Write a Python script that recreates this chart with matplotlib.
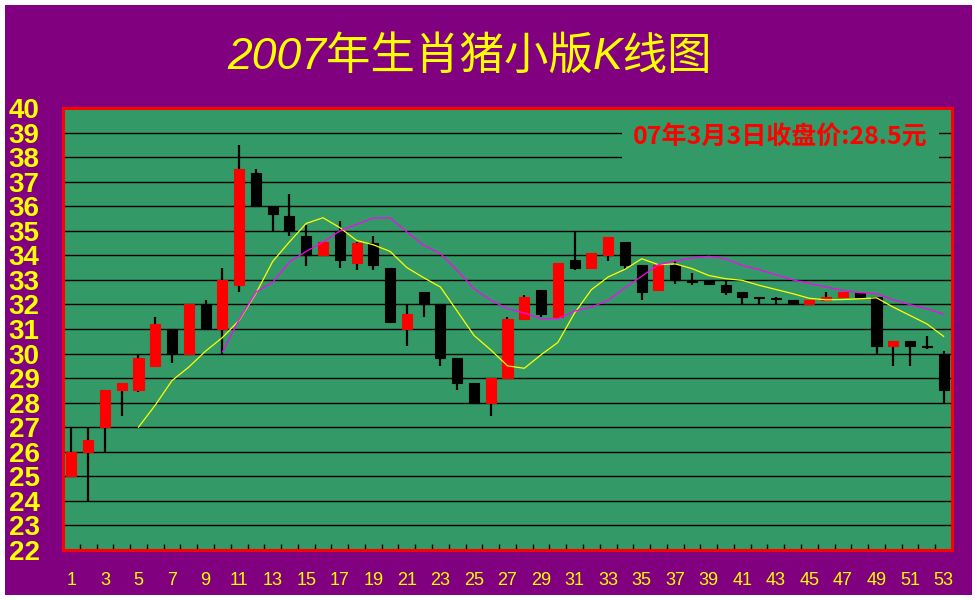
"""2007年生肖猪小版K线图 — daily candlestick chart with two moving averages."""
import matplotlib
matplotlib.use("Agg")
import matplotlib.pyplot as plt
from matplotlib.patches import Rectangle
import numpy as np

PURPLE = "#800080"
GREEN = "#339966"
YELLOW = "#FFFF00"

# candle data, day 1..53
DAYS = list(range(1, 54))
OPEN = [25, 26, 27, 28.5, 28.5, 29.5, 31, 30, 32, 31,
        32.8, 37.35, 36, 35.6, 34.8, 34, 35, 33.7, 34.5, 33.5,
        31, 32.5, 32, 29.8, 28.8, 28, 29, 31.4, 32.6, 31.5,
        33.8, 33.5, 34, 34.55, 33.6, 32.6, 33.6, 32.95, 33, 32.8,
        32.5, 32.3, 32.27, 32.2, 32, 32.2, 32.3, 32.45, 32.3, 30.3,
        30.5, 30.3, 30]
HIGH = [27, 27, 28.5, 28.8, 30, 31.5, 31, 32, 32.2, 33.5,
        38.5, 37.5, 36, 36.5, 35.25, 34.55, 35.4, 34.55, 34.8, 33.5,
        32, 32.5, 32, 29.8, 28.8, 29, 31.5, 32.4, 32.6, 33.7,
        35, 34.1, 34.75, 34.55, 33.6, 33.6, 33.75, 33.3, 33, 33,
        32.5, 32.3, 32.32, 32.2, 32.2, 32.5, 32.5, 32.46, 32.3, 30.5,
        30.5, 30.7, 30.1]
LOW = [25, 24, 26, 27.45, 28.45, 29.5, 29.6, 30, 31, 30,
       32.5, 36, 35, 34.8, 33.55, 34, 33.5, 33.4, 33.4, 31.25,
       30.3, 31.5, 29.5, 28.5, 28, 27.45, 29, 31.35, 31.5, 31.45,
       33.4, 33.45, 33.75, 33.45, 32.2, 32.55, 32.85, 32.8, 32.8, 32.4,
       32, 32, 32, 32, 32, 32.2, 32.25, 32.25, 30, 29.5,
       29.5, 30.2, 28]
CLOSE = [26, 26.5, 28.5, 28.8, 29.8, 31.2, 30, 32, 31, 33,
         37.5, 36, 35.7, 35, 34, 34.55, 33.8, 34.5, 33.6, 31.3,
         31.6, 32, 29.8, 28.8, 28, 29, 31.4, 32.3, 31.6, 33.7,
         33.5, 34.1, 34.75, 33.6, 32.5, 33.6, 33, 32.9, 32.85, 32.5,
         32.3, 32.25, 32.22, 32, 32.2, 32.3, 32.5, 32.3, 30.3, 30.5,
         30.3, 30.25, 28.5]

# yellow average starts on day 5, magenta on day 10
MA_SHORT_DAYS = list(range(5, 54))
MA_SHORT = [27.0, 27.9, 28.9, 29.45, 30.1, 30.65, 31.35, 32.45, 33.75, 34.55,
            35.3, 35.53, 35.13, 34.61, 34.43, 34.16, 33.5, 33.09, 32.71, 31.73,
            30.74, 30.15, 29.5, 29.4, 29.95, 30.45, 31.65, 32.6, 33.12, 33.43,
            33.86, 33.62, 33.65, 33.46, 33.18, 33.05, 32.98, 32.78, 32.61, 32.44,
            32.25, 32.19, 32.2, 32.23, 32.27, 31.89, 31.55, 31.21, 30.7]
MA_LONG_DAYS = list(range(10, 54))
MA_LONG = [30.06, 31.38, 32.5, 32.9, 33.73, 34.16, 34.54, 34.99, 35.26, 35.52,
           35.52, 34.95, 34.41, 34.07, 33.39, 32.64, 32.17, 31.83, 31.65, 31.42,
           31.42, 31.73, 31.89, 32.17, 32.68, 33.15, 33.62, 33.77, 33.89, 33.96,
           33.86, 33.59, 33.42, 33.21, 33.0, 32.85, 32.71, 32.57, 32.48, 32.44,
           32.19, 31.99, 31.83, 31.6]

Y_TICKS = list(range(22, 41))
X_LABELS = list(range(1, 54, 2))
TITLE = "2007年生肖猪小版K线图"
NOTE = "07年3月3日收盘价:28.5元"

fig = plt.figure(figsize=(9.77, 6.0), dpi=100, facecolor="white")
fig.patches.append(Rectangle((5 / 977, 5 / 600), 967 / 977, 590 / 600,
                             transform=fig.transFigure, facecolor=PURPLE,
                             edgecolor="none", zorder=-10))
ax = fig.add_axes([63 / 977, 50 / 600, 889 / 977, 442 / 600])
ax.set_zorder(1)
ax.set_facecolor(GREEN)

for y in Y_TICKS[1:-1]:
    ax.axhline(y, color="black", linewidth=1.0, zorder=1)

o = np.array(OPEN)
c = np.array(CLOSE)
up = c >= o
colors = np.where(up, "red", "black")
ax.vlines(DAYS, LOW, HIGH, color="black", linewidth=1.6, zorder=2)
ax.bar(DAYS, np.abs(c - o), bottom=np.minimum(o, c), width=0.6,
       color=colors, edgecolor=colors, linewidth=0.8, zorder=3)

ax.plot(MA_SHORT_DAYS, MA_SHORT, color=YELLOW, linewidth=0.9, zorder=4)
ax.plot(MA_LONG_DAYS, MA_LONG, color="#FF00FF", linewidth=0.9, zorder=4)

ax.set_xlim(0.5, 53.5)
ax.set_ylim(22, 40)
ax.set_yticks(Y_TICKS)
ax.set_xticks(X_LABELS)
ax.set_xticks(np.arange(1.5, 53, 1.0), minor=True)
ax.tick_params(axis="y", length=0, pad=39, labelcolor=YELLOW, labelsize=20)
ax.tick_params(axis="x", which="major", length=0, pad=16,
               labelcolor=YELLOW, labelsize=13)
ax.tick_params(axis="x", which="minor", direction="in", length=4,
               width=1, color="black")
for lab in ax.get_yticklabels():
    lab.set_horizontalalignment("left")
    lab.set_family("Liberation Sans")
    lab.set_fontweight("bold")
for lab in ax.get_xticklabels():
    lab.set_family("Liberation Sans")
for sp in ax.spines.values():
    sp.set_color("red")
    sp.set_linewidth(2.2)

ax.text(0.641, 0.934, NOTE, transform=ax.transAxes, ha="left", va="center",
        fontsize=18, color="red", fontweight="bold",
        family=["Noto Sans CJK SC", "DejaVu Sans"],
        bbox=dict(boxstyle="square,pad=0.45", facecolor=GREEN,
                  edgecolor="none"), zorder=5)

fig.text(470 / 977, 1 - 57 / 600, TITLE, ha="center", va="center",
         fontsize=32, color=YELLOW, style="italic",
         family=["Liberation Sans", "Noto Sans CJK SC"])

fig.savefig("out.png", dpi=100, facecolor=fig.get_facecolor())
